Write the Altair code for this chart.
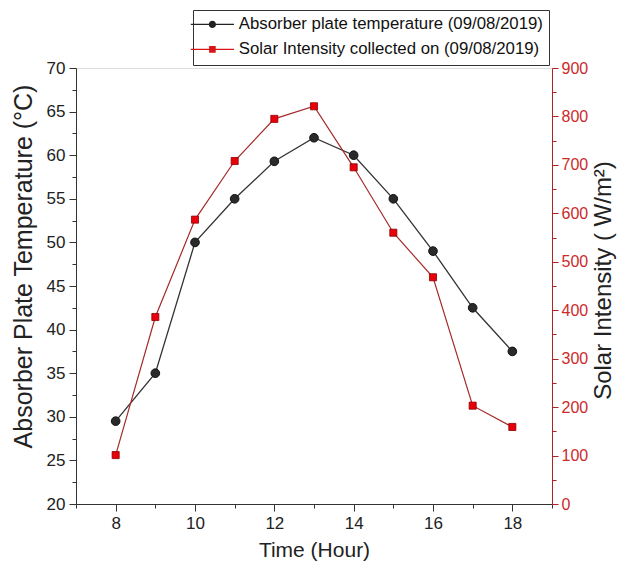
import altair as alt
import pandas as pd

hours = [8, 9, 10, 11, 12, 13, 14, 15, 16, 17, 18]
temperature = [29.5, 35.0, 50.0, 55.0, 59.3, 62.0, 60.0, 55.0, 49.0, 42.5, 37.5]
solar = [101, 386, 587, 708, 795, 821, 695, 560, 468, 203, 159]

s_temp = "Absorber plate temperature (09/08/2019)"
s_solar = "Solar Intensity collected on (09/08/2019)"

x_ticks = [7, 8, 9, 10, 11, 12, 13, 14, 15, 16, 17, 18, 19]
y_left_ticks = [20 + 2.5 * i for i in range(21)]
y_right_ticks = [50 * i for i in range(19)]

df = pd.DataFrame({"hour": hours, "temp": temperature, "solar": solar, "series": s_temp})

SANS = "Liberation Sans, Arial"
RED_AXIS = "#b22222"

x_enc = alt.X(
    "hour:Q",
    scale=alt.Scale(domain=[7, 19], nice=False, zero=False),
    axis=alt.Axis(
        values=x_ticks,
        labelExpr="datum.value % 2 === 0 && datum.value > 7 && datum.value < 19 ? datum.label : ''",
        tickSize={"condition": {"test": "datum.value % 2 === 0", "value": 7}, "value": 4},
        title="Time (Hour)",
        titleFont=SANS,
        titleFontSize=21,
        titleFontWeight="normal",
        titleColor="#222",
        titlePadding=8,
        labelFont=SANS,
        labelFontSize=17,
        labelColor="#222",
        labelPadding=4,
        domainColor="#333",
        tickColor="#333",
        grid=False,
    ),
)

y_left_axis = alt.Axis(
    values=y_left_ticks,
    labelExpr="datum.value % 5 === 0 ? datum.label : ''",
    tickSize={"condition": {"test": "datum.value % 5 === 0", "value": 7}, "value": 4},
    title="Absorber Plate Temperature (°C)",
    titleFont=SANS,
    titleFontSize=25,
    titleFontWeight="normal",
    titleColor="#222",
    titlePadding=10,
    titleY=198,
    labelFont=SANS,
    labelFontSize=17,
    labelColor="#222",
    labelPadding=4,
    domainColor="#333",
    tickColor="#333",
    grid=False,
    orient="left",
)
y_left = alt.Y("temp:Q", scale=alt.Scale(domain=[20, 70], nice=False, zero=False), axis=y_left_axis)

y_right_axis = alt.Axis(
    values=y_right_ticks,
    labelExpr="datum.value % 100 === 0 ? datum.label : ''",
    tickSize={"condition": {"test": "datum.value % 100 === 0", "value": 6}, "value": 4},
    title="Solar Intensity ( W/m²)",
    titleFont=SANS,
    titleFontSize=24,
    titleFontWeight="normal",
    titleColor="#222",
    titleAngle=270,
    titleBaseline="top",
    titlePadding=4,
    titleY=212,
    labelFont=SANS,
    labelFontSize=16,
    labelColor="#cc2a2a",
    labelPadding=3,
    domainColor=RED_AXIS,
    tickColor=RED_AXIS,
    grid=False,
    orient="right",
)
y_right = alt.Y("solar:Q", scale=alt.Scale(domain=[0, 900], nice=False, zero=True), axis=y_right_axis)

base = alt.Chart(df)

temp_line = base.mark_line(color="#333333", strokeWidth=1.3).encode(x=x_enc, y=y_left)
temp_pts = base.mark_point(shape="circle", filled=True, size=75, color="#2a2a2a",
                           stroke="#111111", strokeWidth=1, opacity=1).encode(x=x_enc, y=y_left)

circle_path = ("M-3.6,-0.09H3.6V0.09H-3.6Z "
               "M0.6,0A0.6,0.6 0 1,1 -0.6,0A0.6,0.6 0 1,1 0.6,0Z")
square_path = ("M-3.6,-0.09H3.6V0.09H-3.6Z "
               "M-0.55,-0.55H0.55V0.55H-0.55Z")

legend_lyr = base.mark_point(filled=True, opacity=1).encode(
    x=x_enc,
    y=y_left,
    color=alt.Color(
        "series:N",
        scale=alt.Scale(domain=[s_temp, s_solar], range=["#222222", "#d81414"]),
        legend=alt.Legend(
            title=None,
            orient="none",
            legendX=117,
            legendY=-58,
            strokeColor="#333333",
            padding=6,
            symbolSize=144,
            symbolOpacity=1,
            symbolStrokeWidth=0,
            symbolOffset=5,
            labelFont=SANS,
            labelFontSize=16.8,
            labelColor="#111",
            labelLimit=500,
            labelOffset=18,
            rowPadding=7,
        ),
    ),
    shape=alt.Shape(
        "series:N",
        scale=alt.Scale(domain=[s_temp, s_solar], range=[circle_path, square_path]),
    ),
).transform_filter("datum.hour < 0")

solar_line = base.mark_line(color="#a52a2a", strokeWidth=1.2).encode(x=x_enc, y=y_right)
solar_pts = base.mark_point(shape="square", filled=True, size=50, color="#e8000b",
                            stroke="#8b0000", strokeWidth=0.8, opacity=1).encode(x=x_enc, y=y_right)

left = alt.layer(temp_line, temp_pts, legend_lyr)
right = alt.layer(solar_line, solar_pts)

chart = (
    alt.layer(left, right)
    .resolve_scale(y="independent")
    .properties(
        width=476,
        height=436,
        autosize=alt.AutoSizeParams(type="none"),
        padding={"left": 68, "top": 60, "right": 68, "bottom": 61},
    )
    .configure_view(stroke=None)
    .configure(background="white")
)

chart.save("out.html", embed_options={"renderer": "svg", "actions": False})
